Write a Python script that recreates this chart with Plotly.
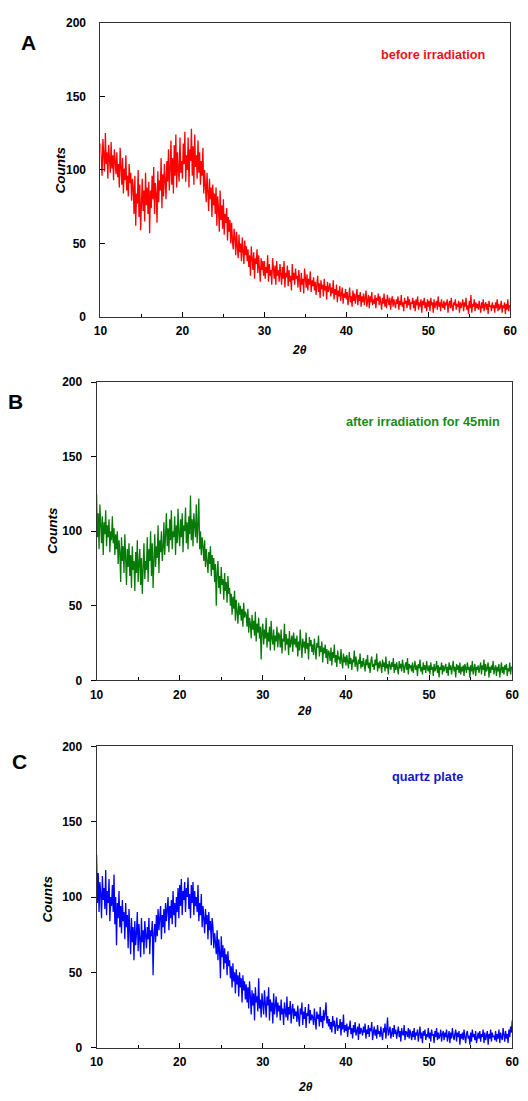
"""
XRD patterns: before irradiation / after 45 min irradiation / quartz plate
"""

import plotly.graph_objects as go

W, H = 528, 1101

# 2-theta sampling grid (deg), 0.1 deg steps
two_theta = [round(10 + 0.1 * i, 1) for i in range(501)]

# Counts (one row = 2 deg)
counts_before = [
    118, 102, 96, 121, 108, 99, 125, 104, 112, 94, 117, 106, 98, 119, 101, 110, 93, 114, 103, 97,
    112, 95, 104, 88, 115, 97, 90, 108, 84, 101, 93, 110, 86, 96, 82, 104, 91, 98, 79, 94,
    88, 70, 96, 62, 84, 77, 100, 68, 90, 59, 81, 94, 72, 86, 65, 98, 76, 88, 70, 92,
    57, 86, 74, 96, 80, 102, 70, 91, 84, 64, 99, 78, 93, 86, 108, 74, 97, 82, 104, 88,
    80, 106, 92, 114, 86, 100, 120, 90, 108, 84, 117, 96, 124, 88, 112, 100, 92, 122, 98, 106,
    94, 118, 104, 126, 92, 110, 100, 122, 88, 114, 106, 128, 96, 116, 90, 124, 102, 110, 94, 120,
    98, 112, 90, 106, 96, 115, 84, 100, 92, 78, 98, 86, 72, 94, 80, 88, 68, 90, 76, 84,
    70, 88, 62, 82, 74, 58, 86, 66, 76, 60, 80, 56, 70, 64, 74, 52, 68, 58, 66, 50,
    64, 52, 46, 60, 54, 42, 58, 48, 40, 56, 44, 50, 38, 54, 46, 36, 52, 42, 48, 38,
    46, 34, 42, 28, 48, 38, 32, 44, 26, 40, 36, 46, 30, 42, 34, 24, 40, 32, 38, 28,
    38, 26, 34, 30, 42, 24, 36, 28, 32, 22, 40, 30, 26, 35, 22, 38, 28, 32, 24, 36,
    30, 22, 34, 26, 38, 20, 30, 27, 35, 21, 32, 24, 28, 18, 36, 25, 30, 22, 33, 26,
    28, 20, 32, 24, 17, 30, 22, 26, 16, 33, 24, 20, 29, 18, 26, 22, 31, 17, 25, 21,
    27, 18, 24, 15, 22, 28, 17, 23, 13, 25, 19, 22, 14, 26, 18, 21, 12, 24, 17, 20,
    23, 14, 20, 16, 25, 12, 19, 15, 22, 10, 18, 14, 21, 11, 17, 20, 9, 16, 13, 19,
    12, 17, 8, 15, 20, 10, 14, 7, 18, 11, 16, 9, 13, 19, 8, 15, 11, 17, 7, 14,
    10, 16, 8, 13, 18, 7, 12, 15, 6, 14, 10, 17, 8, 12, 9, 15, 6, 13, 11, 16,
    8, 14, 10, 5, 13, 9, 16, 7, 12, 6, 15, 10, 8, 13, 5, 11, 14, 7, 12, 9,
    6, 12, 9, 14, 5, 11, 8, 15, 7, 10, 4, 13, 9, 11, 6, 14, 8, 12, 5, 10,
    9, 13, 6, 11, 4, 12, 8, 14, 5, 10, 7, 12, 3, 11, 8, 13, 6, 10, 4, 12,
    7, 11, 4, 13, 8, 10, 3, 12, 6, 9, 11, 5, 14, 7, 10, 4, 12, 8, 6, 11,
    5, 10, 8, 12, 3, 9, 11, 6, 13, 7, 4, 10, 8, 12, 5, 9, 7, 11, 3, 10,
    6, 9, 12, 4, 10, 7, 13, 5, 8, 2, 11, 6, 15, 3, 9, 7, 12, 4, 10, 6,
    9, 5, 11, 7, 3, 10, 6, 12, 4, 8, 10, 5, 9, 2, 11, 7, 8, 4, 10, 6,
    8, 3, 10, 6, 12, 4, 9, 5, 7, 11, 3, 8, 6, 10, 2, 9, 5, 12, 4, 8,
    7,
]

counts_after = [
    125, 96, 112, 88, 118, 102, 92, 110, 84, 106, 98, 114, 90, 104, 96, 108, 86, 100, 94, 110,
    92, 102, 84, 98, 88, 100, 78, 94, 86, 66, 96, 80, 90, 72, 98, 82, 64, 88, 76, 92,
    70, 84, 62, 90, 74, 80, 60, 86, 72, 94, 66, 78, 88, 64, 82, 58, 76, 92, 68, 80,
    74, 96, 66, 88, 80, 100, 70, 92, 62, 84, 98, 76, 90, 82, 104, 72, 94, 86, 100, 80,
    88, 106, 84, 98, 112, 90, 102, 86, 108, 94, 114, 88, 100, 96, 110, 84, 104, 92, 115, 98,
    90, 108, 96, 112, 86, 104, 100, 116, 92, 106, 88, 110, 98, 124, 94, 108, 90, 112, 100, 96,
    118, 92, 104, 122, 88, 100, 84, 96, 90, 80, 94, 76, 88, 82, 72, 86, 78, 90, 70, 84,
    74, 82, 66, 78, 50, 72, 80, 62, 70, 58, 76, 64, 68, 54, 72, 60, 66, 52, 70, 58,
    62, 50, 58, 44, 56, 48, 60, 40, 54, 46, 38, 52, 44, 50, 40, 48, 36, 52, 42, 46,
    44, 36, 48, 32, 42, 38, 28, 44, 34, 40, 30, 46, 26, 38, 32, 42, 28, 36, 14, 34,
    38, 24, 34, 28, 42, 22, 32, 26, 36, 20, 40, 28, 24, 34, 20, 30, 26, 36, 22, 32,
    30, 22, 34, 18, 28, 26, 38, 20, 31, 24, 28, 17, 33, 22, 26, 30, 19, 32, 24, 28,
    22, 30, 16, 26, 20, 34, 24, 15, 28, 22, 26, 18, 32, 21, 25, 14, 29, 23, 27, 19,
    24, 17, 28, 20, 14, 25, 22, 30, 16, 23, 19, 26, 12, 22, 18, 24, 15, 21, 11, 20,
    18, 13, 22, 10, 19, 15, 24, 12, 17, 9, 20, 14, 16, 11, 21, 13, 8, 18, 12, 16,
    10, 17, 13, 8, 19, 11, 15, 7, 14, 12, 20, 9, 16, 10, 6, 14, 11, 18, 8, 13,
    9, 15, 11, 6, 14, 10, 17, 8, 12, 5, 13, 16, 9, 11, 7, 14, 10, 18, 6, 12,
    8, 13, 10, 5, 14, 9, 12, 6, 16, 8, 11, 4, 13, 10, 7, 12, 9, 15, 5, 11,
    7, 12, 9, 4, 13, 8, 11, 6, 14, 9, 5, 10, 12, 7, 15, 4, 11, 8, 10, 6,
    12, 5, 9, 13, 7, 10, 3, 11, 8, 14, 6, 9, 4, 12, 7, 10, 5, 13, 8, 6,
    10, 4, 12, 7, 9, 3, 11, 6, 8, 13, 5, 10, 2, 9, 7, 12, 4, 10, 6, 8,
    11, 5, 9, 3, 12, 7, 10, 4, 8, 13, 6, 9, 2, 11, 7, 10, 5, 12, 4, 9,
    6, 10, 3, 11, 8, 5, 12, 7, 9, 2, 10, 6, 13, 4, 8, 11, 3, 9, 7, 10,
    5, 9, 12, 4, 10, 7, 14, 3, 11, 6, 8, 12, 2, 9, 5, 10, 7, 13, 4, 8,
    10, 3, 9, 6, 11, 2, 8, 12, 5, 9, 4, 10, 7, 11, 3, 8, 6, 12, 4, 9,
    8,
]

counts_quartz = [
    128, 96, 116, 90, 110, 102, 86, 114, 98, 106, 92, 118, 88, 104, 96, 112, 84, 100, 94, 108,
    90, 115, 82, 100, 68, 96, 86, 104, 80, 94, 76, 98, 84, 90, 72, 96, 80, 88, 66, 92,
    78, 62, 86, 70, 80, 58, 84, 68, 76, 90, 64, 82, 72, 60, 86, 70, 78, 62, 84, 74,
    66, 80, 72, 86, 62, 78, 74, 84, 48, 76, 82, 70, 88, 74, 92, 78, 84, 94, 72, 88,
    80, 92, 76, 96, 84, 90, 100, 78, 94, 86, 98, 82, 104, 88, 96, 80, 100, 90, 106, 86,
    108, 94, 112, 88, 104, 98, 110, 90, 106, 100, 113, 92, 102, 86, 108, 96, 110, 88, 104, 94,
    100, 90, 108, 84, 96, 88, 102, 80, 94, 86, 76, 92, 82, 88, 72, 90, 78, 84, 68, 86,
    80, 66, 76, 70, 62, 78, 58, 72, 64, 46, 74, 60, 68, 52, 66, 56, 62, 48, 64, 54,
    58, 46, 54, 40, 56, 44, 50, 36, 52, 42, 48, 34, 50, 40, 46, 30, 48, 38, 44, 32,
    42, 30, 40, 26, 44, 34, 22, 38, 28, 36, 18, 40, 30, 34, 24, 46, 26, 32, 20, 36,
    30, 22, 38, 26, 20, 34, 28, 40, 18, 32, 24, 30, 16, 36, 22, 28, 34, 20, 30, 24,
    28, 18, 32, 22, 26, 15, 30, 24, 20, 34, 18, 27, 22, 31, 16, 25, 29, 19, 26, 21,
    24, 17, 28, 20, 14, 26, 22, 30, 15, 24, 19, 27, 13, 23, 21, 29, 16, 25, 18, 22,
    20, 15, 26, 18, 12, 24, 19, 22, 14, 27, 17, 21, 13, 25, 18, 23, 30, 16, 21, 14,
    19, 12, 17, 10, 21, 14, 18, 9, 16, 20, 11, 15, 13, 19, 8, 17, 12, 22, 10, 15,
    11, 16, 7, 14, 12, 18, 9, 13, 6, 15, 10, 17, 8, 12, 14, 5, 16, 9, 13, 11,
    8, 14, 10, 16, 6, 12, 9, 15, 7, 13, 11, 17, 5, 10, 14, 8, 12, 6, 15, 9,
    11, 7, 14, 9, 5, 13, 10, 16, 6, 12, 20, 8, 11, 14, 6, 10, 13, 7, 15, 9,
    12, 6, 10, 14, 7, 11, 4, 13, 9, 8, 15, 5, 11, 10, 7, 13, 6, 12, 9, 5,
    11, 7, 13, 5, 10, 8, 12, 4, 9, 14, 6, 10, 3, 11, 8, 12, 5, 9, 7, 13,
    6, 10, 4, 12, 8, 9, 3, 11, 7, 13, 5, 10, 6, 8, 12, 4, 9, 11, 5, 10,
    7, 12, 4, 9, 11, 3, 10, 6, 13, 8, 5, 9, 12, 4, 10, 7, 11, 2, 9, 6,
    10, 5, 12, 7, 3, 9, 11, 6, 8, 2, 10, 4, 12, 7, 9, 5, 11, 3, 8, 10,
    6, 11, 4, 9, 7, 12, 3, 10, 5, 8, 11, 2, 9, 6, 12, 4, 10, 7, 8, 5,
    11, 4, 9, 6, 12, 3, 10, 7, 5, 13, 8, 4, 11, 6, 9, 3, 12, 7, 14, 10,
    18,
]

panel_letters = ["A", "B", "C"]
panel_notes = ["before irradiation", "after irradiation for 45min", "quartz plate"]
line_colors = ["#ff0000", "#067a06", "#0000ff"]
note_colors = ["#e8141c", "#1b8a1b", "#1515c8"]
series = [counts_before, counts_after, counts_quartz]

for s in series:
    assert len(s) == len(two_theta), len(s)

# panel boxes in pixels: left, right, top, bottom
boxes = [(96, 517, 16, 314), (92, 519, 380, 682), (92, 519, 749, 1054)]
ytick_dir = ["inside", "outside", "outside"]
# label positions in pixels
letter_pos = [(22, 36), (9, 400), (13, 764)]
note_pos = [(438, 49), (427, 420), (432, 780)]
counts_pos = [(55, 165), (47, 530), (42, 903)]
theta_pos = [(300, 347), (306, 713), (307, 1094)]

FONT = "Liberation Sans, Arial, sans-serif"


def px(x):
    return x / W


def py(y):
    return 1 - y / H


fig = go.Figure()
annotations = []

for i in range(3):
    n = "" if i == 0 else str(i + 1)
    fig.add_trace(go.Scatter(
        x=two_theta, y=series[i], mode="lines",
        line=dict(color=line_colors[i], width=1.3),
        xaxis="x" + n, yaxis="y" + n, showlegend=False,
    ))
    l, r, t, b = boxes[i]
    fig.update_layout({
        "xaxis" + n: dict(
            domain=[px(l), px(r)], anchor="y" + n, range=[10, 60],
            tickvals=[10, 20, 30, 40, 50, 60], ticks="inside", ticklen=5,
            tickcolor="black", minor=dict(tickvals=[15, 25, 35, 45, 55], ticks="inside",
                                         ticklen=3, tickcolor="black"),
            showline=True, linecolor="#333", linewidth=1, mirror=True,
            showgrid=False, zeroline=False,
            tickfont=dict(family=FONT, size=12, color="black", weight="bold"),
            ticklabelstandoff=3,
        ),
        "yaxis" + n: dict(
            domain=[py(b), py(t)], anchor="x" + n, range=[0, 200],
            tickvals=[0, 50, 100, 150, 200], ticks=ytick_dir[i], ticklen=5,
            tickcolor="black",
            showline=True, linecolor="#333", linewidth=1, mirror=True,
            showgrid=False, zeroline=False,
            tickfont=dict(family=FONT, size=12, color="black", weight="bold"),
            ticklabelstandoff=6 if ytick_dir[i] == "outside" else 11,
        ),
    })

    annotations += [
        dict(text=panel_letters[i], x=px(letter_pos[i][0]), y=py(letter_pos[i][1]),
             font=dict(family=FONT, size=21, color="black", weight="bold")),
        dict(text=panel_notes[i], x=px(note_pos[i][0]), y=py(note_pos[i][1]),
             font=dict(family=FONT, size=12.7, color=note_colors[i], weight="bold")),
        dict(text="Counts", x=px(counts_pos[i][0]), y=py(counts_pos[i][1]), textangle=-90,
             font=dict(family=FONT, size=13.5, color="black", weight="bold", style="italic")),
        dict(text="2θ", x=px(theta_pos[i][0]), y=py(theta_pos[i][1]),
             font=dict(family=FONT, size=12, color="black", weight="bold", style="italic")),
    ]

for a in annotations:
    a.update(xref="paper", yref="paper", showarrow=False, xanchor="center", yanchor="middle")

fig.update_layout(
    width=W, height=H,
    margin=dict(l=0, r=0, t=0, b=0),
    paper_bgcolor="white", plot_bgcolor="white",
    annotations=annotations,
)

# no page margin / scrollbars, so the figure sits at the window origin
fig.write_html(
    "out.html",
    config={"displayModeBar": False},
    post_script="document.body.style.margin='0';"
                "document.body.style.overflow='hidden';"
                "document.documentElement.style.overflow='hidden';",
)
